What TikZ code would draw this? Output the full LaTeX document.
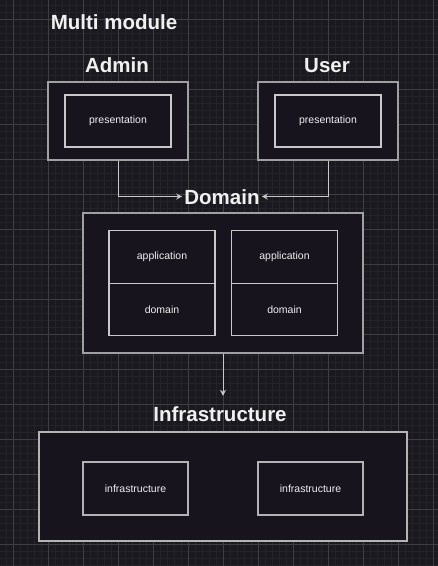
\documentclass[tikz,border=0pt]{standalone}
\usepackage{fontspec}
\setmainfont{Liberation Sans}
\usetikzlibrary{arrows.meta}
\definecolor{bg}{RGB}{26,25,31}
\definecolor{boxfill}{RGB}{24,20,30}
\definecolor{gridmajor}{RGB}{62,62,66}
\definecolor{gridminor}{RGB}{36,35,41}
\definecolor{outerline}{RGB}{160,160,160}
\definecolor{innerline}{RGB}{200,200,200}
\definecolor{txt}{RGB}{240,240,240}
\tikzset{
  outerbox/.style={draw=outerline, line width=1.2pt, fill=boxfill, rectangle, inner sep=0pt},
  innerbox/.style={draw=innerline, line width=1.05pt, fill=boxfill, rectangle, inner sep=0pt,
    text=txt, font=\fontsize{10.5}{12}\selectfont},
  titletext/.style={text=txt, font=\fontsize{20.5}{24}\bfseries, text height=15pt, text depth=0pt, inner xsep=2pt},
  arr/.style={draw=innerline, line width=1pt, -{Stealth[length=6pt,width=6pt,inset=2pt]}},
}
\begin{document}
\begin{tikzpicture}[x=1pt,y=-1pt]
\fill[bg] (0,0) rectangle (438,566);
\useasboundingbox (0,0) rectangle (438,566);
% grid
\foreach \i in {0,...,63} {
  \draw[gridminor, line width=0.6pt] ({-1+7*\i},0) -- ({-1+7*\i},566);
}
\foreach \i in {0,...,81} {
  \draw[gridminor, line width=0.6pt] (0,{5+7*\i}) -- (438,{5+7*\i});
}
\foreach \i in {0,...,12} {
  \draw[gridmajor, line width=0.8pt] ({13+35*\i},0) -- ({13+35*\i},566);
}
\foreach \i in {0,...,15} {
  \draw[gridmajor, line width=0.8pt] (0,{19+35*\i}) -- (438,{19+35*\i});
}
% titles
\node[titletext] (multi) at (114,21.5) {Multi module};
\node[titletext] (admintitle) at (117,65) {Admin};
\node[titletext] (usertitle) at (327,65) {User};
\node[titletext] (domtitle) at (222,196.5) {Domain};
\node[titletext, inner ysep=10.5pt] (infratitle) at (220,414) {Infrastructure};
% admin / user
\node[outerbox, minimum width=140pt, minimum height=78pt] (admin) at (118,121) {};
\node[innerbox, minimum width=106pt, minimum height=52pt] (adminpres) at (118,121) {presentation};
\node[outerbox, minimum width=140pt, minimum height=78pt] (user) at (328,121) {};
\node[innerbox, minimum width=106pt, minimum height=52pt] (userpres) at (328,121) {presentation};
% domain
\node[outerbox, minimum width=280pt, minimum height=140pt] (dombox) at (223,283) {};
\node[innerbox, minimum width=106pt, minimum height=52.5pt] (app1) at (162,257) {application};
\node[innerbox, minimum width=106pt, minimum height=52.5pt] (dom1) at (162,309.5) {domain};
\node[innerbox, minimum width=106pt, minimum height=52.5pt] (app2) at (284.5,257) {application};
\node[innerbox, minimum width=106pt, minimum height=52.5pt] (dom2) at (284.5,309.5) {domain};
% infrastructure
\node[outerbox, draw=innerline!90!black, minimum width=368pt, minimum height=109pt] (infrabox) at (223,486.5) {};
\node[innerbox, draw=outerline!80!white, minimum width=105pt, minimum height=53pt] (infra1) at (135.5,488.5) {infrastructure};
\node[innerbox, draw=outerline!80!white, minimum width=105pt, minimum height=53pt] (infra2) at (310.5,488.5) {infrastructure};
% connectors
\draw[arr] (admin.south) |- (domtitle.west);
\draw[arr] (user.south) |- (domtitle.east);
\draw[arr] (dombox.south) -- (dombox.south |- infratitle.north);
\end{tikzpicture}
\end{document}
